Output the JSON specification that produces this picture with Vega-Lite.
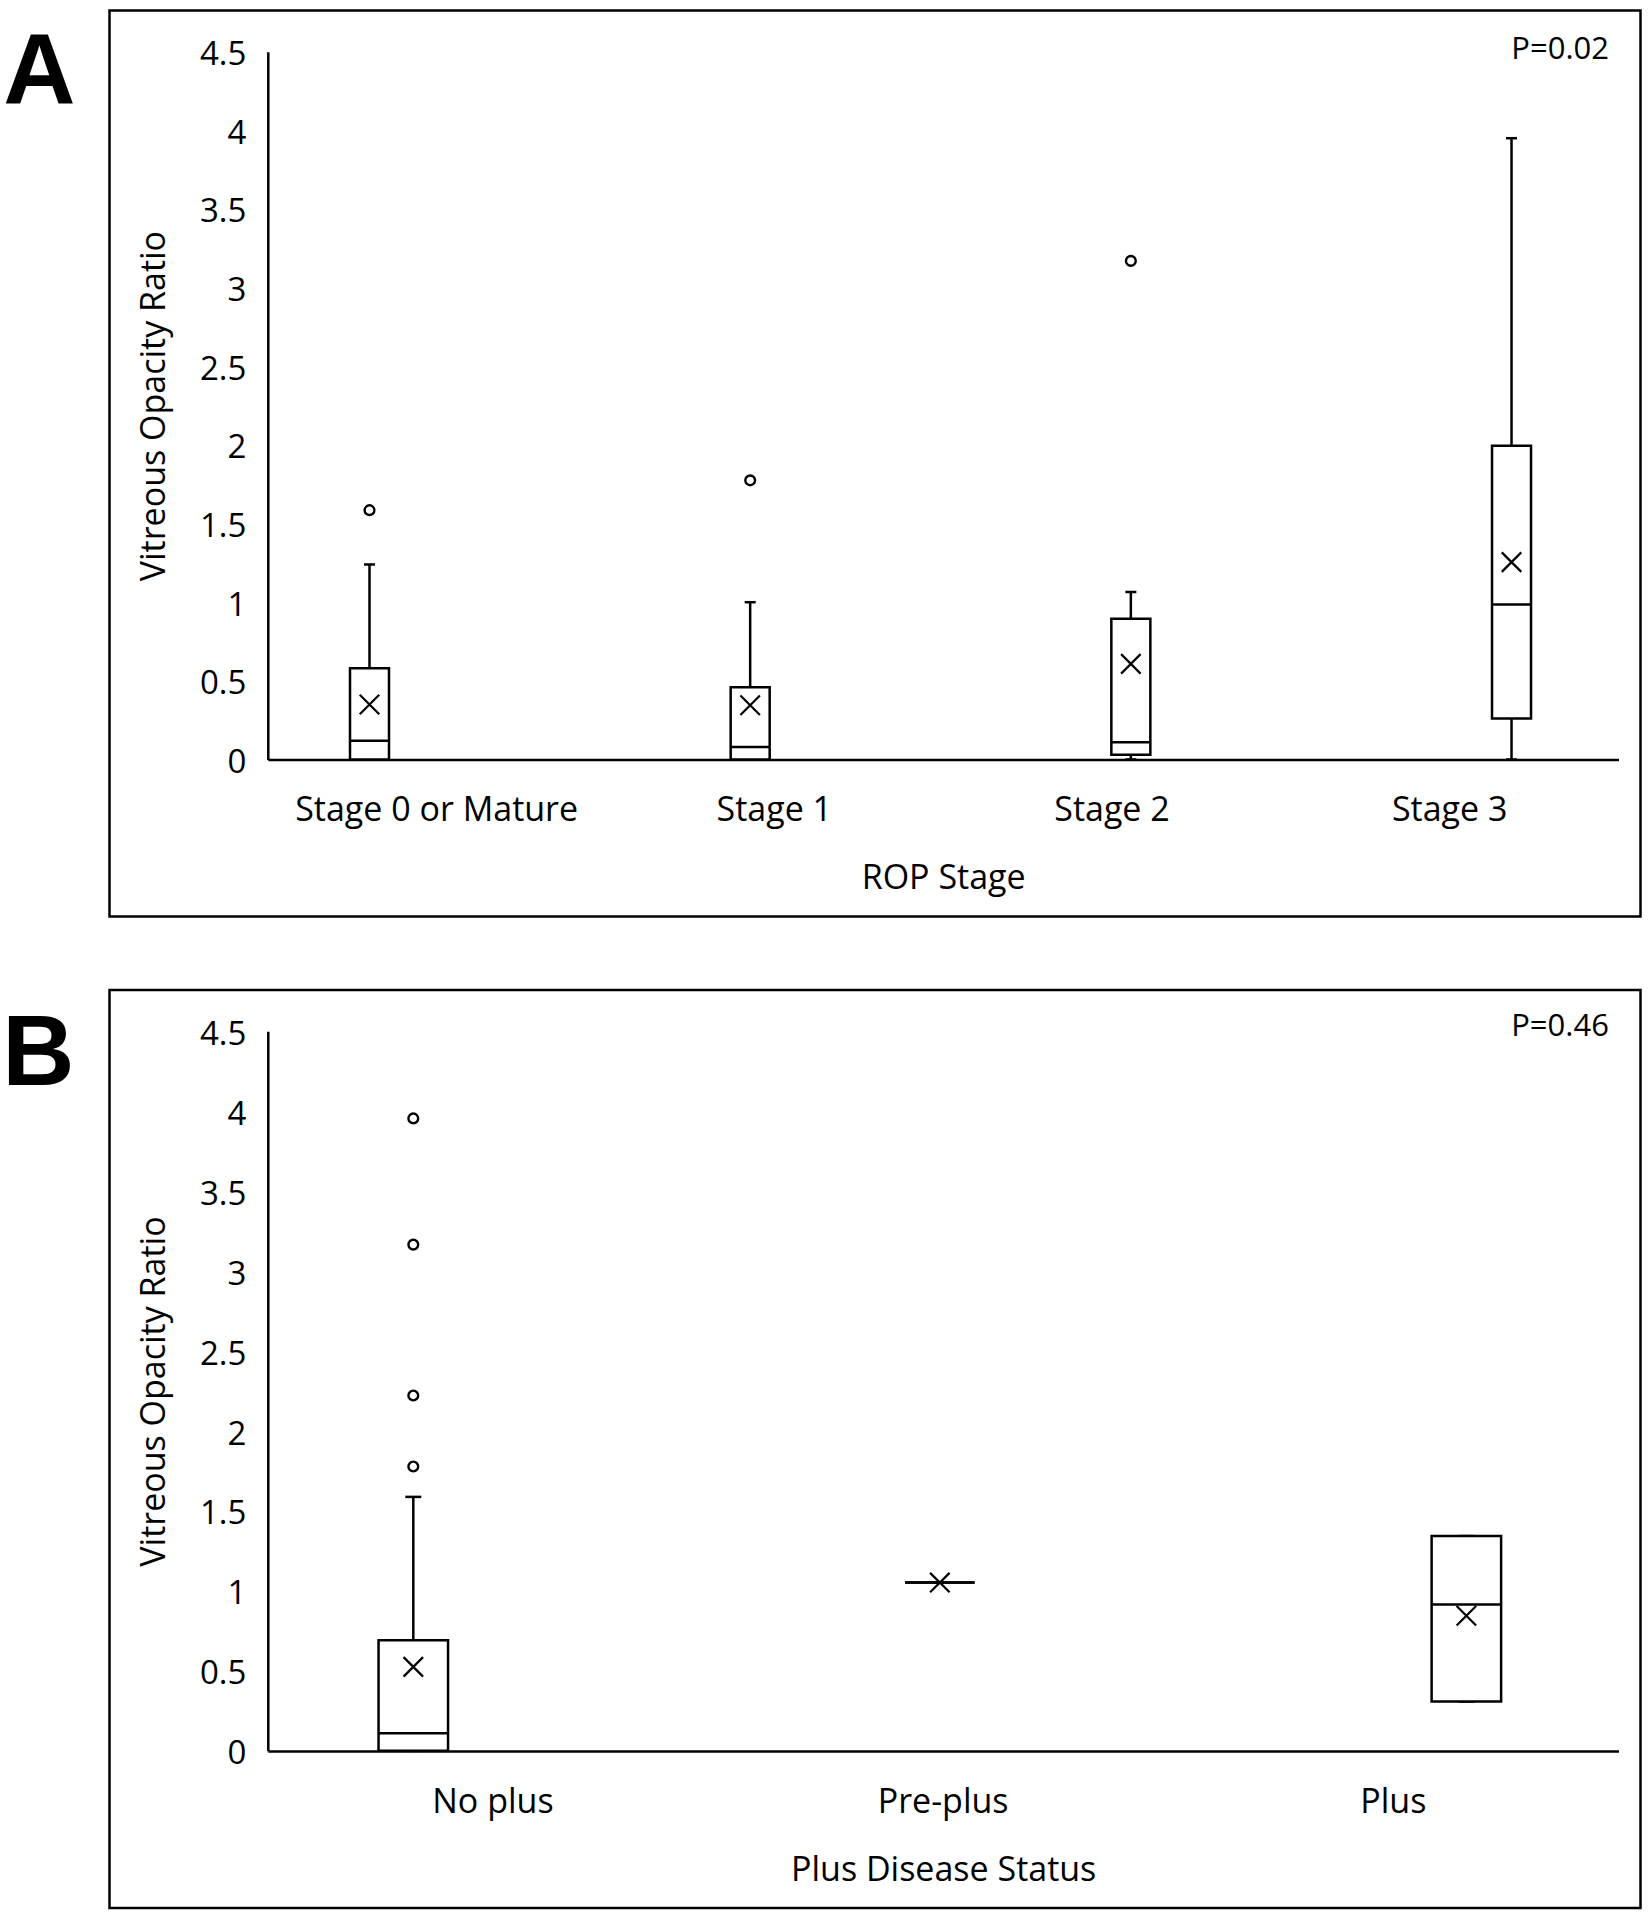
{
  "$schema": "https://vega.github.io/schema/vega-lite/v6.json",
  "background": "white",
  "padding": {"left": 0.5, "top": 8.5, "right": 11, "bottom": 11},
  "spacing": 69.5,
  "resolve": {"scale": {"x": "independent", "xOffset": "independent", "y": "independent"}},
  "config": {
    "view": {"stroke": "black", "strokeWidth": 2.5},
    "font": "Open Sans",
    "axis": {"labelFont": "Open Sans", "titleFont": "Open Sans", "labelColor": "black", "titleColor": "black", "titleFontWeight": "normal", "domainColor": "black", "domainWidth": 2.5, "ticks": false, "grid": false, "labelFontSize": 33, "titleFontSize": 34},
    "axisX": {"labelAngle": 0, "labelLimit": 0, "labelPadding": 34, "titlePadding": 34, "labelFontSize": 34, "offset": -157},
    "axisY": {"tickCount": 10, "format": ".1~f", "labelPadding": 22, "labelOffset": 3, "titlePadding": 28, "offset": -158.3},
    "title": {"font": "Liberation Sans", "fontSize": 100, "fontWeight": "bold", "color": "black"}
  },
  "vconcat": [
    {
      "width": 1531,
      "height": 906,
      "title": {"text": "A", "orient": "left", "anchor": "end", "angle": 0, "align": "left", "baseline": "top", "offset": 34, "dy": 14},
      "data": {"values": [
        {"stage": "Stage 0 or Mature", "slot": 0, "min": 0, "q1": 0, "median": 0.12, "q3": 0.58, "max": 1.24, "mean": 0.35},
        {"stage": "Stage 1", "slot": 1, "min": 0, "q1": 0, "median": 0.08, "q3": 0.46, "max": 1.0, "mean": 0.345},
        {"stage": "Stage 2", "slot": 2, "min": 0, "q1": 0.03, "median": 0.11, "q3": 0.895, "max": 1.065, "mean": 0.608},
        {"stage": "Stage 3", "slot": 3, "min": 0, "q1": 0.26, "median": 0.985, "q3": 1.995, "max": 3.95, "mean": 1.255}
      ]},
      "encoding": {
        "x": {"field": "stage", "type": "nominal", "scale": {"domain": ["Stage 0 or Mature", "Stage 1", "Stage 2", "Stage 3"], "range": [158.3, 1509], "paddingInner": 0, "paddingOuter": 0}, "axis": {"title": "ROP Stage"}},
        "xOffset": {"field": "slot", "type": "ordinal", "scale": {"domain": [0, 1, 2, 3], "range": [80.2, 252.2], "paddingInner": 0, "paddingOuter": 0}}
      },
      "layer": [
        {
          "mark": {"type": "rule", "strokeWidth": 2.5, "color": "black"},
          "encoding": {
            "y": {"field": "min", "type": "quantitative", "scale": {"domain": [0, 4.5], "range": [749, 41.2], "nice": false, "zero": true}, "axis": {"title": "Vitreous Opacity Ratio"}},
            "y2": {"field": "max"}
          }
        },
        {
          "mark": {"type": "tick", "size": 11, "thickness": 2.5, "color": "black", "opacity": 1},
          "encoding": {"y": {"field": "max", "type": "quantitative", "axis": {"title": "Vitreous Opacity Ratio"}}}
        },
        {
          "mark": {"type": "tick", "size": 11, "thickness": 2.5, "color": "black", "opacity": 1},
          "encoding": {"y": {"field": "min", "type": "quantitative", "axis": {"title": "Vitreous Opacity Ratio"}}}
        },
        {
          "mark": {"type": "bar", "width": 39, "fill": "white", "stroke": "black", "strokeWidth": 2.5},
          "encoding": {"y": {"field": "q1", "type": "quantitative", "axis": {"title": "Vitreous Opacity Ratio"}}, "y2": {"field": "q3"}}
        },
        {
          "mark": {"type": "tick", "size": 39, "thickness": 2.5, "color": "black", "opacity": 1},
          "encoding": {"y": {"field": "median", "type": "quantitative", "axis": {"title": "Vitreous Opacity Ratio"}}}
        },
        {
          "mark": {"type": "point", "shape": "M-1,-1L1,1M-1,1L1,-1", "filled": false, "size": 380, "stroke": "black", "strokeWidth": 2.2, "opacity": 1},
          "encoding": {"y": {"field": "mean", "type": "quantitative", "axis": {"title": "Vitreous Opacity Ratio"}}}
        },
        {
          "data": {"values": [
            {"stage": "Stage 0 or Mature", "slot": 0, "value": 1.585},
            {"stage": "Stage 1", "slot": 1, "value": 1.775},
            {"stage": "Stage 2", "slot": 2, "value": 3.17}
          ]},
          "mark": {"type": "point", "shape": "circle", "filled": false, "size": 95, "stroke": "black", "strokeWidth": 2.4, "opacity": 1},
          "encoding": {"y": {"field": "value", "type": "quantitative", "axis": {"title": "Vitreous Opacity Ratio"}}}
        },
        {
          "data": {"values": [{"stage": "Stage 3", "slot": 3, "label": "P=0.02"}]},
          "mark": {"type": "text", "align": "right", "baseline": "alphabetic", "fontSize": 31, "font": "Open Sans", "color": "black", "dx": 97.5, "dy": 6.8},
          "encoding": {"y": {"datum": 4.5, "type": "quantitative", "axis": {"title": "Vitreous Opacity Ratio"}}, "text": {"field": "label"}}
        }
      ]
    },
    {
      "width": 1531,
      "height": 918,
      "title": {"text": "B", "orient": "left", "anchor": "end", "angle": 0, "align": "left", "baseline": "top", "offset": 35, "dy": 16},
      "data": {"values": [
        {"stage": "No plus", "slot": 0, "min": 0, "q1": 0, "median": 0.11, "q3": 0.692, "max": 1.588, "mean": 0.525},
        {"stage": "Pre-plus", "slot": 1, "min": 1.052, "q1": 1.052, "median": 1.052, "q3": 1.052, "max": 1.052, "mean": 1.052},
        {"stage": "Plus", "slot": 2, "min": 0.308, "q1": 0.308, "median": 0.915, "q3": 1.343, "max": 1.343, "mean": 0.845}
      ]},
      "encoding": {
        "x": {"field": "stage", "type": "nominal", "scale": {"domain": ["No plus", "Pre-plus", "Plus"], "range": [158.3, 1509], "paddingInner": 0, "paddingOuter": 0}, "axis": {"title": "Plus Disease Status"}},
        "xOffset": {"field": "slot", "type": "ordinal", "scale": {"domain": [0, 1, 2], "range": [107.35, 336.25], "paddingInner": 0, "paddingOuter": 0}}
      },
      "layer": [
        {
          "mark": {"type": "rule", "strokeWidth": 2.5, "color": "black"},
          "encoding": {
            "y": {"field": "min", "type": "quantitative", "scale": {"domain": [0, 4.5], "range": [760.8, 41.3], "nice": false, "zero": true}, "axis": {"title": "Vitreous Opacity Ratio"}},
            "y2": {"field": "max"}
          }
        },
        {
          "mark": {"type": "tick", "size": 16, "thickness": 2.5, "color": "black", "opacity": 1},
          "encoding": {"y": {"field": "max", "type": "quantitative", "axis": {"title": "Vitreous Opacity Ratio"}}}
        },
        {
          "mark": {"type": "tick", "size": 16, "thickness": 2.5, "color": "black", "opacity": 1},
          "encoding": {"y": {"field": "min", "type": "quantitative", "axis": {"title": "Vitreous Opacity Ratio"}}}
        },
        {
          "mark": {"type": "bar", "width": 69.5, "fill": "white", "stroke": "black", "strokeWidth": 2.5},
          "encoding": {"y": {"field": "q1", "type": "quantitative", "axis": {"title": "Vitreous Opacity Ratio"}}, "y2": {"field": "q3"}}
        },
        {
          "mark": {"type": "tick", "size": 69.5, "thickness": 2.5, "color": "black", "opacity": 1},
          "encoding": {"y": {"field": "median", "type": "quantitative", "axis": {"title": "Vitreous Opacity Ratio"}}}
        },
        {
          "mark": {"type": "point", "shape": "M-1,-1L1,1M-1,1L1,-1", "filled": false, "size": 380, "stroke": "black", "strokeWidth": 2.2, "opacity": 1},
          "encoding": {"y": {"field": "mean", "type": "quantitative", "axis": {"title": "Vitreous Opacity Ratio"}}}
        },
        {
          "data": {"values": [
            {"stage": "No plus", "slot": 0, "value": 1.778},
            {"stage": "No plus", "slot": 0, "value": 2.222},
            {"stage": "No plus", "slot": 0, "value": 3.166},
            {"stage": "No plus", "slot": 0, "value": 3.955}
          ]},
          "mark": {"type": "point", "shape": "circle", "filled": false, "size": 95, "stroke": "black", "strokeWidth": 2.4, "opacity": 1},
          "encoding": {"y": {"field": "value", "type": "quantitative", "axis": {"title": "Vitreous Opacity Ratio"}}}
        },
        {
          "data": {"values": [{"stage": "Plus", "slot": 2, "label": "P=0.46"}]},
          "mark": {"type": "text", "align": "right", "baseline": "alphabetic", "fontSize": 31, "font": "Open Sans", "color": "black", "dx": 142.5, "dy": 4.5},
          "encoding": {"y": {"datum": 4.5, "type": "quantitative", "axis": {"title": "Vitreous Opacity Ratio"}}, "text": {"field": "label"}}
        }
      ]
    }
  ]
}
